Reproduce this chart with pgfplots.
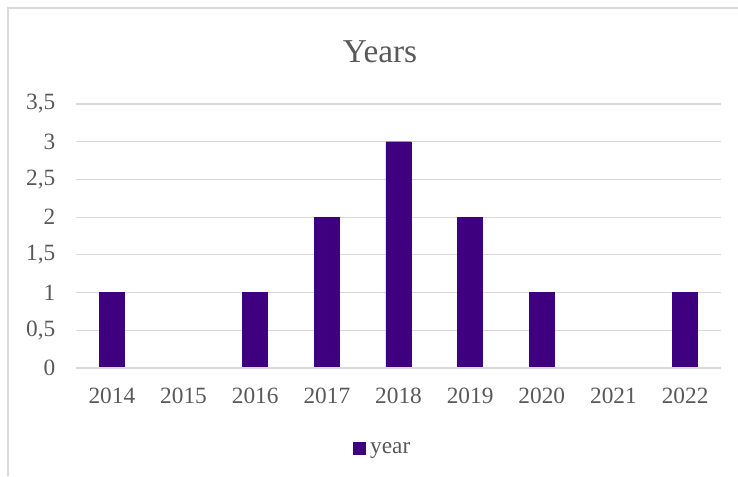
\documentclass[border=0pt]{standalone}
\usepackage{pgfplots}
\pgfplotsset{compat=1.18}
\usepackage{fontspec}
\setmainfont{Liberation Serif}
\definecolor{bar}{RGB}{63,0,128}
\definecolor{txt}{RGB}{89,89,89}
\definecolor{grd}{RGB}{217,217,217}
\begin{document}
\begin{tikzpicture}
\path[use as bounding box] (0,0) rectangle (553.5pt,357pt);
\draw[grd, line width=0.9pt] (6pt,0) -- (6pt,351pt) -- (553.5pt,351pt);
\node[txt, font=\fontsize{25}{29}\selectfont] at (285pt,318pt) {Years};
\begin{axis}[
  at={(57pt,81pt)}, anchor=south west,
  scale only axis, width=483.75pt, height=198pt,
  ybar, bar width=18.75pt,
  xmin=-0.5, xmax=8.5, ymin=0, ymax=3.5,
  xtick={0,...,8},
  xticklabels={2014,2015,2016,2017,2018,2019,2020,2021,2022},
  ytick={0,0.5,...,3.5},
  /pgf/number format/use comma,
  /pgf/number format/assume math mode=true,
  yticklabel style={/pgf/number format/fixed, /pgf/number format/precision=1},
  tick label style={font=\fontsize{17.5}{20}\selectfont, text=txt},
  xticklabel style={yshift=-11.5pt},
  yticklabel style={xshift=-12pt},
  major tick length=0pt,
  ymajorgrids, grid style={grd, line width=0.9pt},
  axis line style={draw=none},
  clip=false,
  legend style={at={(0.476,-0.305)}, anchor=center, draw=none, fill=none,
    font=\fontsize{17.5}{20}\selectfont, text=txt, inner sep=0pt},
  legend image code/.code={\fill[bar] (0pt,-4.5pt) rectangle (9pt,4.5pt);},
]
\addplot[fill=bar, draw=bar, line width=0.3pt] coordinates {
 (0,1) (1,0) (2,1) (3,2) (4,3) (5,2) (6,1) (7,0) (8,1)
};
\addlegendentry{\hspace{1.5pt}year}
\draw[grd, line width=0.9pt] (rel axis cs:0,0) -- (rel axis cs:1,0);
\end{axis}
\end{tikzpicture}
\end{document}
